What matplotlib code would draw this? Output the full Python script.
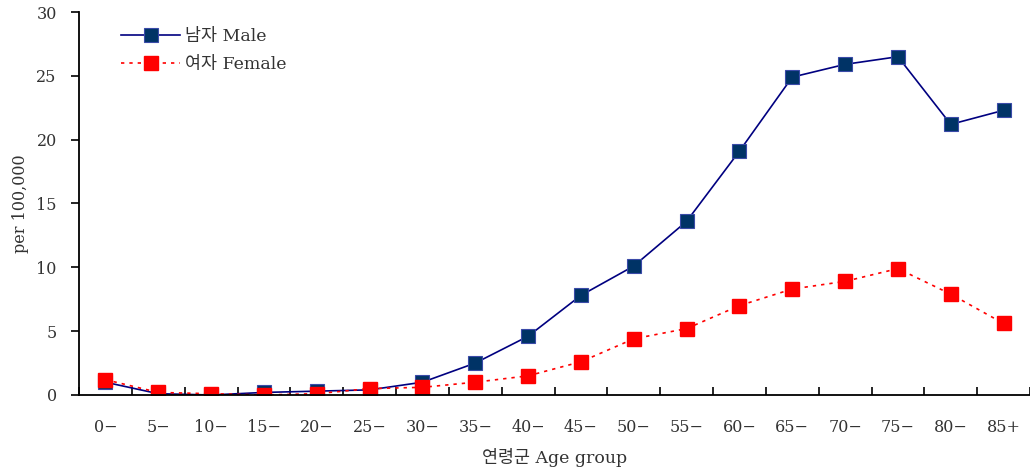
import numpy as np
import matplotlib.pyplot as plt
from matplotlib.ticker import FixedLocator

plt.rcParams['font.family'] = ['DejaVu Serif', 'Noto Sans CJK KR']

# data
age_groups = ['0−', '5−', '10−', '15−', '20−', '25−', '30−', '35−', '40−',
              '45−', '50−', '55−', '60−', '65−', '70−', '75−', '80−', '85+']
male = [1.0, 0.1, 0.0, 0.2, 0.3, 0.4, 1.0, 2.5, 4.6,
        7.8, 10.1, 13.6, 19.1, 24.9, 25.9, 26.5, 21.2, 22.3]
female = [1.2, 0.2, 0.1, 0.0, 0.1, 0.5, 0.6, 1.0, 1.5,
          2.6, 4.4, 5.2, 7.0, 8.3, 8.9, 9.9, 7.9, 5.6]

x = np.arange(len(age_groups))

fig = plt.figure(figsize=(10.30, 4.71), dpi=100)
ax = fig.add_axes([0.0767, 0.1614, 0.9233, 0.8131])

ax.plot(x, male, color='#000080', lw=1.2, marker='s', ms=10,
        mfc='#003366', mec='#3a4aa8', mew=0.8, label='남자 Male')
ax.plot(x, female, color='#ff0000', lw=1.2, ls=(0, (2, 3)), marker='s', ms=10,
        mfc='#ff0000', mec='#ff0000', label='여자 Female')

ax.set_xlim(-0.5, len(age_groups) - 0.5)
ax.set_ylim(0, 30)
ax.set_yticks(range(0, 31, 5))
ax.set_xticks(x)
ax.set_xticklabels(age_groups)
ax.xaxis.set_minor_locator(FixedLocator(np.arange(-0.5, len(age_groups), 1.0)))
ax.tick_params(axis='x', which='major', length=0, pad=17, labelsize=11.5,
               labelcolor='#333333')
ax.tick_params(axis='x', which='minor', direction='in', length=6, width=1.2)
ax.tick_params(axis='y', direction='out', length=6, width=1.2, labelsize=11.5,
               labelcolor='#333333', pad=10)

for s in ['top', 'right']:
    ax.spines[s].set_visible(False)
ax.spines['left'].set_linewidth(1.3)
ax.spines['bottom'].set_linewidth(1.3)

ax.set_ylabel('per 100,000', fontsize=11.5, color='#333333', labelpad=5)
ax.set_xlabel('연령군 Age group', fontsize=12.5, color='#333333', labelpad=9)

ax.legend(loc='upper left', bbox_to_anchor=(0.028, 0.998), frameon=False,
          fontsize=12.5, handlelength=3.4, handletextpad=0.25, labelspacing=0.6,
          labelcolor='#333333')

fig.savefig('out.png', dpi=100)
